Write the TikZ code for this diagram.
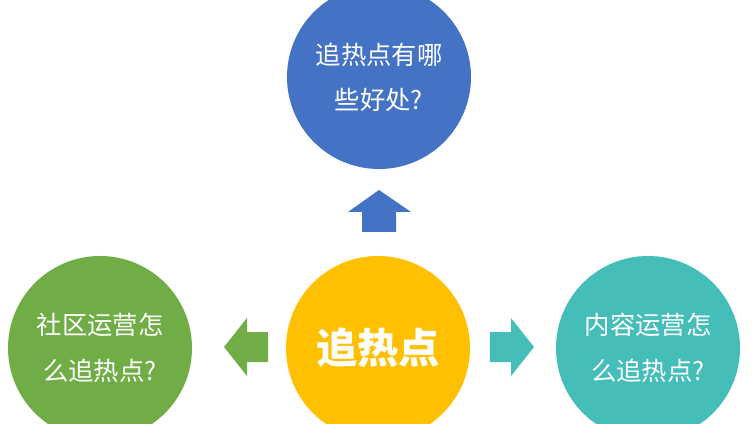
\documentclass[tikz,border=0pt]{standalone}
\usepackage{fontspec}
\newfontfamily\cjk{Noto Sans CJK SC}
\usetikzlibrary{positioning}
\definecolor{topblue}{HTML}{4472C4}
\definecolor{leftgreen}{HTML}{70AD47}
\definecolor{midyellow}{HTML}{FFC000}
\definecolor{rightteal}{HTML}{45BDB9}
\tikzset{
  topic/.style={circle, minimum size=138pt, inner sep=0pt, text=white, align=center,
    font=\cjk\fontsize{19}{34}\selectfont},
  blockarrow/.style={draw=none}
}

\begin{document}
\begin{tikzpicture}[x=0.75pt, y=-0.75pt]
\useasboundingbox (0, 0) rectangle (754, 424);
\begin{scope}
\clip (0, 0) rectangle (754, 424);

% Circles
\node [topic, fill=midyellow, font=\cjk\bfseries\fontsize{31}{36}\selectfont] (hot) at (378, 348) {追热点};
\node [topic, fill=topblue] (benefit) at (379, 77) {追热点有哪\\些好处?};
\node [topic, fill=leftgreen] (community) at (100, 348) {社区运营怎\\么追热点?};
\node [topic, fill=rightteal] (content) at (648, 348) {内容运营怎\\么追热点?};

% Block arrows
\fill [topblue] (362, 232) -- (362, 212) -- (348, 212) -- (379, 190) -- (411, 212)
  -- (396, 212) -- (396, 232) -- cycle;
\fill [leftgreen] (268, 332) -- (247, 332) -- (247, 318) -- (224, 347) -- (247, 376)
  -- (247, 362) -- (268, 362) -- cycle;
\fill [rightteal] (490, 332) -- (511, 332) -- (511, 318) -- (534, 347) -- (511, 376)
  -- (511, 362) -- (490, 362) -- cycle;
\end{scope}
\end{tikzpicture}
\end{document}
